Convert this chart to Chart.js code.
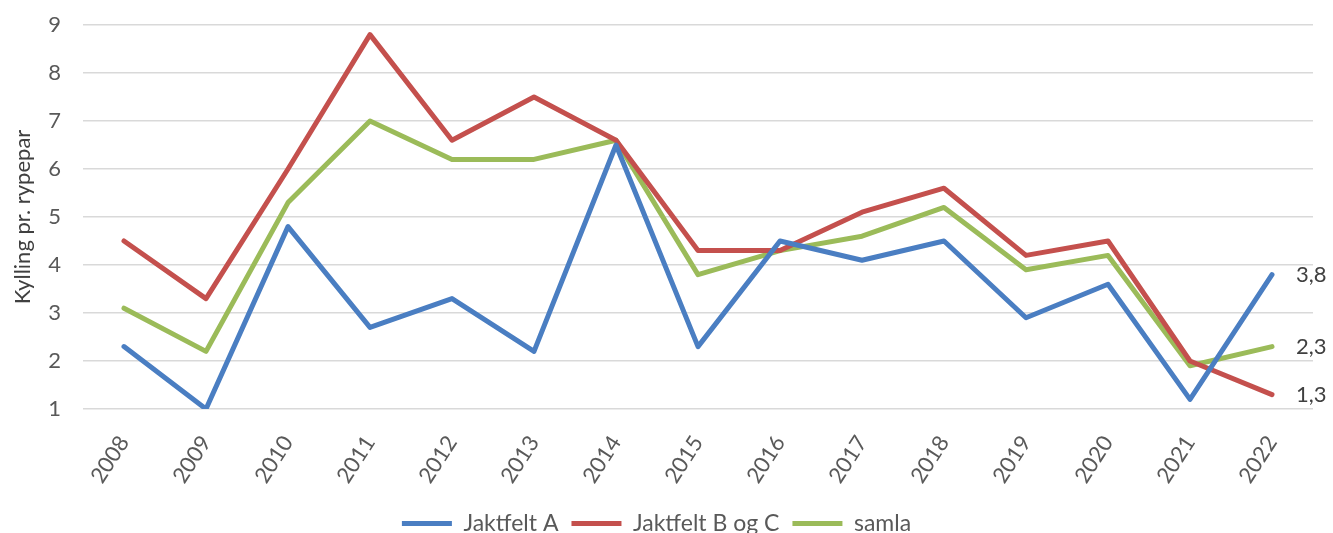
<!DOCTYPE html>
<html>
<head>
<meta charset="utf-8">
<script src="https://cdn.jsdelivr.net/npm/chart.js@4/dist/chart.umd.min.js"></script>
<style>
  html, body { margin: 0; padding: 0; background: #fff; }
  #wrap { width: 1333px; height: 533px; }
</style>
</head>
<body>
<div id="wrap"><canvas id="rypeChart"></canvas></div>
<script>
var years = ["2008","2009","2010","2011","2012","2013","2014","2015","2016","2017","2018","2019","2020","2021","2022"];
var jaktfeltA = [2.3, 1.0, 4.8, 2.7, 3.3, 2.2, 6.5, 2.3, 4.5, 4.1, 4.5, 2.9, 3.6, 1.2, 3.8];
var jaktfeltBC = [4.5, 3.3, 6.0, 8.8, 6.6, 7.5, 6.6, 4.3, 4.3, 5.1, 5.6, 4.2, 4.5, 2.0, 1.3];
var samla = [3.1, 2.2, 5.3, 7.0, 6.2, 6.2, 6.6, 3.8, 4.3, 4.6, 5.2, 3.9, 4.2, 1.9, 2.3];
var yTicks = [1, 2, 3, 4, 5, 6, 7, 8, 9];

var textColor = "#595959";
var fontName = "Lato";

function line(label, values, color) {
    return {
        label: label,
        data: values,
        borderColor: color,
        backgroundColor: color,
        borderWidth: 5,
        borderCapStyle: "round",
        borderJoinStyle: "round",
        pointRadius: 0,
        tension: 0
    };
}

// last value written right of each line, like the excel data labels
var endLabels = {
    id: "endLabels",
    afterDatasetsDraw: function(chart) {
        var ctx = chart.ctx;
        ctx.save();
        ctx.font = "22px " + fontName;
        ctx.fillStyle = "#404040";
        ctx.textBaseline = "middle";
        ctx.textAlign = "left";
        chart.data.datasets.forEach(function(ds, i) {
            var meta = chart.getDatasetMeta(i);
            var last = meta.data[meta.data.length - 1];
            var v = ds.data[ds.data.length - 1];
            ctx.fillText(v.toFixed(1).replace(".", ","), last.x + 24, last.y);
        });
        ctx.restore();
    }
};

new Chart(document.getElementById("rypeChart"), {
    type: "line",
    data: {
        labels: years,
        datasets: [
            line("Jaktfelt A", jaktfeltA, "#4a7ec2"),
            line("Jaktfelt B og C", jaktfeltBC, "#c4504d"),
            line("samla", samla, "#9bbb59")
        ]
    },
    options: {
        responsive: true,
        maintainAspectRatio: false,
        animation: false,
        layout: { padding: { top: 0, right: 20, left: 0, bottom: 0 } },
        plugins: {
            tooltip: { enabled: false },
            legend: {
                position: "bottom",
                maxHeight: 34,
                labels: {
                    color: textColor,
                    font: { family: fontName, size: 23 },
                    boxWidth: 50,
                    boxHeight: 5,
                    padding: 13,
                    generateLabels: function(chart) {
                        return Chart.defaults.plugins.legend.labels.generateLabels(chart).map(function(l) {
                            l.lineWidth = 0;
                            return l;
                        });
                    }
                }
            }
        },
        scales: {
            x: {
                offset: true,
                grid: { display: false },
                border: { display: false },
                ticks: {
                    color: textColor,
                    font: { family: fontName, size: 22 },
                    minRotation: 57,
                    maxRotation: 57,
                    padding: 14
                },
                afterFit: function(scale) { scale.height = 90; }
            },
            y: {
                min: 1,
                max: 9,
                afterBuildTicks: function(scale) {
                    scale.ticks = yTicks.map(function(v) { return { value: v }; });
                },
                grid: { color: "#d9d9d9", lineWidth: 1.5, drawTicks: false },
                border: { display: false },
                ticks: {
                    color: textColor,
                    font: { family: fontName, size: 22 },
                    padding: 22
                },
                title: {
                    display: true,
                    text: "Kylling pr. rypepar",
                    color: "#404040",
                    font: { family: fontName, size: 22 },
                    padding: { top: 10, bottom: 0 }
                },
                afterFit: function(scale) {
                    scale.width = 83;
                    scale.paddingTop = 25;
                    scale.paddingBottom = 0;
                }
            }
        }
    },
    plugins: [endLabels]
});
</script>
</body>
</html>
